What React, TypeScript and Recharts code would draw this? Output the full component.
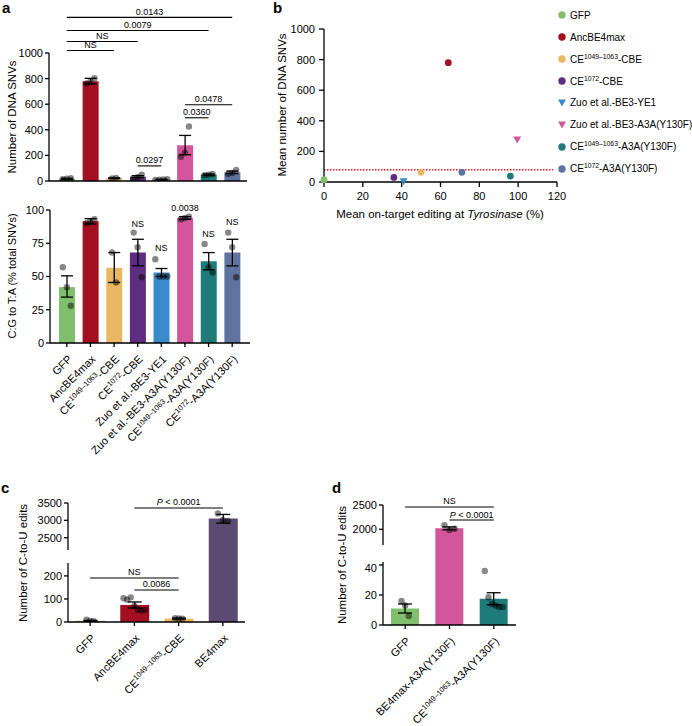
import React from 'react';
import {
  ComposedChart, ScatterChart, Bar, Line, Scatter, XAxis, YAxis, ErrorBar, Cell, ReferenceLine, ReferenceDot, Legend,
} from 'recharts';

const FONT = '"Liberation Sans", Arial, Helvetica, sans-serif';

// ---------------- Panel a ----------------
const catsA = ['GFP', 'AncBE4max', 'CE^{1049–1063}-CBE', 'CE^{1072}-CBE', 'Zuo et al.-BE3-YE1', 'Zuo et al.-BE3-A3A(Y130F)', 'CE^{1049–1063}-A3A(Y130F)', 'CE^{1072}-A3A(Y130F)'];
const colorsA = ['#80bf6b', '#a30f20', '#e9b865', '#5f2d80', '#3a8bcb', '#d3559b', '#1e7b7a', '#5f72a0'];
const snvMean = [18, 780, 22, 34, 11, 279, 50, 68];
const snvErr = [[3, 3], [22, 22], [3, 3], [8, 8], [3, 3], [74, 77], [5, 5], [10, 10]];
const snvPts = [[15, 18, 21], [762, 775, 803], [20, 24], [22, 30, 50], [8, 10, 12, 14], [190, 222, 426], [45, 50, 55], [55, 62, 86]];
const snvTicks = [0, 200, 400, 600, 800, 1000];
const snvBrackets = [
  { from: 0, to: 7, y: 1278, text: '0.0143' },
  { from: 0, to: 6, y: 1176, text: '0.0079' },
  { from: 0, to: 3, y: 1090, text: 'NS' },
  { from: 0, to: 2, y: 1020, text: 'NS' },
  { from: 3, to: 4, y: 118, text: '0.0297' },
  { from: 5, to: 6, y: 494, text: '0.0360' },
  { from: 5, to: 7, y: 596, text: '0.0478' },
];

const cgMean = [42, 91.5, 56.5, 68, 53, 94, 61.5, 68];
const cgErr = [[7.5, 8.5], [2, 2], [11, 11.5], [10, 10], [3, 3], [1, 1], [6.5, 6.5], [10, 10]];
const cgPts = [[57, 42, 28], [90, 91.5, 93], [68, 45.5], [83, 72, 49.5], [63, 50, 50, 50], [93, 94, 95], [74.5, 57, 53], [83, 72, 49.5]];
const cgSig = ['', '', '', 'NS', 'NS', '0.0038', 'NS', 'NS'];
const cgSigY = [null, null, null, 90, 72, 102, 82, 91];
const cgTicks = [0, 25, 50, 75, 100];

// ---------------- Panel b ----------------
const bNames = ['GFP', 'AncBE4max', 'CE^{1049–1063}-CBE', 'CE^{1072}-CBE', 'Zuo et al.-BE3-YE1', 'Zuo et al.-BE3-A3A(Y130F)', 'CE^{1049–1063}-A3A(Y130F)', 'CE^{1072}-A3A(Y130F)'];
const bX = [0, 64, 50, 36, 41, 99.5, 96, 71];
const bY = [15, 780, 63, 30, 2, 275, 39, 63];
const bShapes = ['circle', 'circle', 'circle', 'circle', 'tri', 'tri', 'circle', 'circle'];
const bXTicks = [0, 20, 40, 60, 80, 100, 120];
const bYTicks = [0, 80, 200, 400, 600, 800, 1000];
const bThreshold = 80;

// ---------------- Panel c ----------------
const catsC = ['GFP', 'AncBE4max', 'CE^{1049–1063}-CBE', 'BE4max'];
const colorsC = ['#80bf6b', '#a30f20', '#e9b865', '#5b4a72'];
const cMean = [5, 74, 15, 3050];
const cErr = [[2, 2], [13, 13], [2, 2], [130, 120]];
const cPts = [[10, 5, 4], [103, 97, 107, 70, 52, 50, 52], [16, 15, 14], [3200, 3010, 2980]];
const cBroken = [false, false, false, true];
const cUpperTicks = [2500, 3000, 3500];
const cLowerTicks = [0, 100, 200];
const cUpperBrackets = [{ from: 1, to: 3, y: 3356, text: 'P < 0.0001' }];
const cLowerBrackets = [
  { from: 0, to: 2, y: 191, text: 'NS' },
  { from: 1, to: 2, y: 139, text: '0.0086' },
];

// ---------------- Panel d ----------------
const catsD = ['GFP', 'BE4max-A3A(Y130F)', 'CE^{1049–1063}-A3A(Y130F)'];
const colorsD = ['#80bf6b', '#d3559b', '#1e7b7a'];
const dMean = [11, 2020, 17.5];
const dErr = [[3, 3], [30, 30], [4, 4]];
const dPts = [[16, 13, 6], [2085, 1985, 2010], [36, 18.5, 14, 13, 12, 12]];
const dBroken = [false, true, false];
const dUpperTicks = [2000, 2500];
const dLowerTicks = [0, 20, 40];
const dUpperBrackets = [
  { from: 0, to: 2, y: 2459, text: 'NS' },
  { from: 1, to: 2, y: 2191, text: 'P < 0.0001' },
];

// ---------------- helpers ----------------
const AX = { stroke: '#000', strokeWidth: 1.3 };
const TICKFONT = { fontSize: 11, fill: '#000' };

function svgLabel(s: string, fs: number) {
  const m = s.match(/^(.*)\^\{(.*)\}(.*)$/);
  if (!m) return s;
  return [
    <tspan key="a">{m[1]}</tspan>,
    <tspan key="b" fontSize={fs * 0.68} dy={-fs * 0.4}>{m[2]}</tspan>,
    <tspan key="c" fontSize={fs} dy={fs * 0.4}>{m[3]}</tspan>,
  ];
}

function htmlLabel(s: string, fs: number) {
  const m = s.match(/^(.*)\^\{(.*)\}(.*)$/);
  if (!m) return s;
  return (
    <>
      {m[1]}
      <span style={{ fontSize: fs * 0.68, position: 'relative', top: -fs * 0.4 }}>{m[2]}</span>
      {m[3]}
    </>
  );
}

const makeRotTick = (fs: number) => (props: any) => {
  const { x, y, payload } = props;
  return (
    <g transform={`translate(${x + 3},${y + 8})`}>
      <text transform="rotate(-45)" textAnchor="end" fontSize={fs} fill="#000" dy={4}>
        {svgLabel(String(payload.value), fs)}
      </text>
    </g>
  );
};

const bracketLabel = (text: string) => (props: any) => {
  const vb = props.viewBox || props;
  let cx: number;
  let y: number;
  if (vb.x1 != null) {
    cx = (vb.x1 + vb.x2) / 2;
    y = Math.min(vb.y1, vb.y2);
  } else {
    cx = vb.x + (vb.width || 0) / 2;
    y = vb.y;
  }
  const italic = text.startsWith('P ');
  return (
    <text x={cx} y={y - 2.5} textAnchor="middle" fontSize={9} fill="#000">
      {italic ? [<tspan key="p" fontStyle="italic">P</tspan>, <tspan key="r">{text.slice(1)}</tspan>] : text}
    </text>
  );
};

function bracketLines(list: any[], cats: string[], prefix: string) {
  return list.map((b, k) => (
    <ReferenceLine
      key={`${prefix}${k}`}
      segment={[{ x: cats[b.from], y: b.y }, { x: cats[b.to], y: b.y }]}
      stroke="#000"
      strokeWidth={1.1}
      ifOverflow="visible"
      label={bracketLabel(b.text)}
    />
  ));
}

const makeDot = (i: number, spacing: number) => (p: any) => {
  const { cx, cy, payload, index } = p;
  const pts = payload && payload.pts;
  if (cy == null || isNaN(cy) || !pts || pts[i] == null) return <g key={`d${i}-${index}`} />;
  const n = pts.length;
  const off = (i - (n - 1) / 2) * spacing;
  return <circle key={`d${i}-${index}`} cx={cx + off} cy={cy} r={3.2} fill="#000" fillOpacity={0.47} />;
};

function pointLines(maxN: number, spacing: number, prefix: string) {
  const out: any[] = [];
  for (let i = 0; i < maxN; i++) {
    out.push(
      <Line
        key={`${prefix}${i}`}
        dataKey={(d: any) => (d.pts && d.pts[i] != null ? d.pts[i] : null)}
        stroke="none"
        isAnimationActive={false}
        dot={makeDot(i, spacing)}
        activeDot={false}
        legendType="none"
      />,
    );
  }
  return out;
}

const sigShape = (text: string) => (p: any) => (
  <text x={p.cx} y={p.cy + 3.5} textAnchor="middle" fontSize={9} fill="#000">{text}</text>
);

const BYTick = (p: any) => {
  const v = p.payload.value;
  return (
    <text x={p.x} y={p.y} dy={4} textAnchor="end" fontSize={11} fill={v === bThreshold ? '#e8141b' : '#000'}>
      {v}
    </text>
  );
};

const downTri = (p: any) => (
  <polygon points={`${p.cx - 4},${p.cy - 3.5} ${p.cx + 4},${p.cy - 3.5} ${p.cx},${p.cy + 3.5}`} fill={p.fill} />
);
const circ = (p: any) => <circle cx={p.cx} cy={p.cy} r={3.4} fill={p.fill} />;

const BLegend = () => (
  <div style={{ fontFamily: FONT, fontSize: 10, color: '#000' }}>
    {bNames.map((n, i) => (
      <div key={i} style={{ height: 21.9, display: 'flex', alignItems: 'center', whiteSpace: 'nowrap' }}>
        <svg width={12} height={10} style={{ flex: 'none' }}>
          {bShapes[i] === 'tri'
            ? <polygon points="2,1.5 10,1.5 6,8.5" fill={colorsA[i]} />
            : <circle cx={6} cy={5} r={3.7} fill={colorsA[i]} />}
        </svg>
        <span style={{ marginLeft: 2 }}>{htmlLabel(n, 10)}</span>
      </div>
    ))}
  </div>
);

// ---------------- data rows ----------------
const snvRows = catsA.map((name, i) => ({ name, mean: snvMean[i], err: snvErr[i], pts: snvPts[i] }));
const cgRows = catsA.map((name, i) => ({ name, mean: cgMean[i], err: cgErr[i], pts: cgPts[i] }));
const cUpperRows = catsC.map((name, i) => ({ name, mean: cBroken[i] ? cMean[i] : null, err: cBroken[i] ? cErr[i] : undefined, pts: cBroken[i] ? cPts[i] : undefined }));
const cLowerRows = catsC.map((name, i) => ({ name, mean: cMean[i], err: cBroken[i] ? undefined : cErr[i], pts: cBroken[i] ? undefined : cPts[i] }));
const dUpperRows = catsD.map((name, i) => ({ name, mean: dBroken[i] ? dMean[i] : null, err: dBroken[i] ? dErr[i] : undefined, pts: dBroken[i] ? dPts[i] : undefined }));
const dLowerRows = catsD.map((name, i) => ({ name, mean: dMean[i], err: dBroken[i] ? undefined : dErr[i], pts: dBroken[i] ? undefined : dPts[i] }));

const Abs = ({ left, top, children }: any) => (
  <div style={{ position: 'absolute', left, top }}>{children}</div>
);

export default function App() {
  return (
    <div style={{ position: 'absolute', left: 0, top: 0, width: 692, height: 726, background: '#fff', fontFamily: FONT, overflow: 'hidden' }}>
      {/* a top */}
      <Abs left={0} top={0}>
        <ComposedChart width={262} height={190} data={snvRows} margin={{ top: 53, right: 15, bottom: 0, left: 0 }}>
          <XAxis dataKey="name" height={9} tick={false} tickSize={4} axisLine={AX} tickLine={AX} padding={{ left: 6, right: 3 }} />
          <YAxis width={49} domain={[0, 1000]} ticks={snvTicks} allowDataOverflow tick={TICKFONT} tickSize={4} tickMargin={2} axisLine={AX} tickLine={AX} />
          <Bar dataKey="mean" barSize={16} isAnimationActive={false}>
            {snvRows.map((r, i) => <Cell key={i} fill={colorsA[i]} />)}
            <ErrorBar dataKey="err" width={6} stroke="#000" strokeWidth={1.3} />
          </Bar>
          {pointLines(4, 4, 'sp')}
          {bracketLines(snvBrackets, catsA, 'sb')}
        </ComposedChart>
      </Abs>

      {/* a bottom */}
      <Abs left={0} top={190}>
        <ComposedChart width={262} height={280} data={cgRows} margin={{ top: 20, right: 12, bottom: 0, left: 0 }}>
          <XAxis dataKey="name" height={127} interval={0} tick={makeRotTick(11)} tickSize={4} tickMargin={2} axisLine={AX} tickLine={AX} padding={{ left: 5, right: 6 }} />
          <YAxis width={50} domain={[0, 100]} ticks={cgTicks} allowDataOverflow tick={TICKFONT} tickSize={4} tickMargin={2} axisLine={AX} tickLine={AX} />
          <Bar dataKey="mean" barSize={16} isAnimationActive={false}>
            {cgRows.map((r, i) => <Cell key={i} fill={colorsA[i]} />)}
            <ErrorBar dataKey="err" width={6} stroke="#000" strokeWidth={1.3} />
          </Bar>
          {pointLines(4, 4, 'cp')}
          {catsA.map((name, i) => (cgSigY[i] != null ? (
            <ReferenceDot key={`sig${i}`} x={name} y={cgSigY[i] as number} r={0} ifOverflow="visible" shape={sigShape(cgSig[i])} />
          ) : null))}
        </ComposedChart>
      </Abs>

      {/* b */}
      <Abs left={280} top={0}>
        <ScatterChart width={412} height={230} margin={{ top: 29, right: 135, bottom: 0, left: 0 }}>
          <XAxis type="number" dataKey="x" domain={[0, 120]} ticks={bXTicks} height={48} tick={TICKFONT} tickSize={5} tickMargin={5} axisLine={AX} tickLine={AX} />
          <YAxis type="number" dataKey="y" width={44} domain={[0, 1000]} ticks={bYTicks} tick={BYTick} tickSize={5} tickMargin={4} axisLine={AX} tickLine={AX} />
          <ReferenceLine segment={[{ x: 0, y: bThreshold }, { x: 118, y: bThreshold }]} stroke="#e8141b" strokeWidth={1.3} strokeDasharray="1.5 1.5" ifOverflow="visible" />
          {bNames.map((n, i) => (
            <Scatter
              key={i}
              name={n}
              data={[{ x: bX[i], y: bY[i] }]}
              fill={colorsA[i]}
              shape={bShapes[i] === 'tri' ? downTri : circ}
              isAnimationActive={false}
            />
          ))}
          <Legend layout="vertical" align="center" verticalAlign="middle" wrapperStyle={{ left: 276, top: 4.4, width: 140 }} content={() => <BLegend />} />
        </ScatterChart>
      </Abs>

      {/* c upper */}
      <Abs left={0} top={490}>
        <ComposedChart width={260} height={73} data={cUpperRows} margin={{ top: 13, right: 15, bottom: 0, left: 0 }}>
          <XAxis dataKey="name" hide />
          <YAxis width={68} domain={[1771, 3500]} ticks={cUpperTicks} allowDataOverflow tick={TICKFONT} tickSize={4} tickMargin={2} axisLine={{ ...AX, strokeDasharray: '47 40' }} tickLine={AX} />
          <Bar dataKey="mean" barSize={29} isAnimationActive={false}>
            {cUpperRows.map((r, i) => <Cell key={i} fill={colorsC[i]} />)}
            <ErrorBar dataKey="err" width={7} stroke="#000" strokeWidth={1.3} />
          </Bar>
          {pointLines(3, 5, 'cu')}
          {bracketLines(cUpperBrackets, catsC, 'cub')}
        </ComposedChart>
      </Abs>

      {/* c lower */}
      <Abs left={0} top={563}>
        <ComposedChart width={260} height={150} data={cLowerRows} margin={{ top: 0, right: 15, bottom: 0, left: 0 }}>
          <XAxis dataKey="name" height={91} interval={0} tick={makeRotTick(11)} tickSize={4} tickMargin={2} axisLine={AX} tickLine={AX} />
          <YAxis width={68} domain={[0, 256]} ticks={cLowerTicks} allowDataOverflow tick={TICKFONT} tickSize={4} tickMargin={2} axisLine={AX} tickLine={AX} />
          <Bar dataKey="mean" barSize={29} isAnimationActive={false}>
            {cLowerRows.map((r, i) => <Cell key={i} fill={colorsC[i]} />)}
            <ErrorBar dataKey="err" width={7} stroke="#000" strokeWidth={1.3} />
          </Bar>
          {pointLines(7, 3.6, 'cl')}
          {bracketLines(cLowerBrackets, catsC, 'clb')}
        </ComposedChart>
      </Abs>

      {/* d upper */}
      <Abs left={340} top={490}>
        <ComposedChart width={190} height={72} data={dUpperRows} margin={{ top: 15, right: 14, bottom: 0, left: 0 }}>
          <XAxis dataKey="name" hide />
          <YAxis width={43} domain={[1327, 2500]} ticks={dUpperTicks} allowDataOverflow tick={TICKFONT} tickSize={4} tickMargin={2} axisLine={{ ...AX, strokeDasharray: '40 40' }} tickLine={AX} />
          <Bar dataKey="mean" barSize={28} isAnimationActive={false}>
            {dUpperRows.map((r, i) => <Cell key={i} fill={colorsD[i]} />)}
            <ErrorBar dataKey="err" width={7} stroke="#000" strokeWidth={1.3} />
          </Bar>
          {pointLines(3, 5, 'du')}
          {bracketLines(dUpperBrackets, catsD, 'dub')}
        </ComposedChart>
      </Abs>

      {/* d lower */}
      <Abs left={340} top={562}>
        <ComposedChart width={190} height={164} data={dLowerRows} margin={{ top: 0, right: 14, bottom: 0, left: 0 }}>
          <XAxis dataKey="name" height={101} interval={0} tick={makeRotTick(11)} tickSize={4} tickMargin={2} axisLine={AX} tickLine={AX} />
          <YAxis width={43} domain={[0, 42]} ticks={dLowerTicks} allowDataOverflow tick={TICKFONT} tickSize={4} tickMargin={2} axisLine={AX} tickLine={AX} />
          <Bar dataKey="mean" barSize={28} isAnimationActive={false}>
            {dLowerRows.map((r, i) => <Cell key={i} fill={colorsD[i]} />)}
            <ErrorBar dataKey="err" width={7} stroke="#000" strokeWidth={1.3} />
          </Bar>
          {pointLines(6, 3.6, 'dl')}
        </ComposedChart>
      </Abs>

      {/* titles and panel letters */}
      <svg width={692} height={726} style={{ position: 'absolute', left: 0, top: 0, pointerEvents: 'none' }}>
        <g fontFamily={FONT} fill="#000">
          <text x={2} y={13} fontSize={15} fontWeight="bold">a</text>
          <text x={273} y={13} fontSize={15} fontWeight="bold">b</text>
          <text x={1} y={493} fontSize={15} fontWeight="bold">c</text>
          <text x={332} y={493} fontSize={15} fontWeight="bold">d</text>
          <text transform="translate(12,117) rotate(-90)" textAnchor="middle" dy="0.35em" fontSize={11.5}>Number of DNA SNVs</text>
          <text transform="translate(12,276) rotate(-90)" textAnchor="middle" dy="0.35em" fontSize={11}>C:G to T:A (% total SNVs)</text>
          <text transform="translate(282,105) rotate(-90)" textAnchor="middle" dy="0.35em" fontSize={11.5}>Mean number of DNA SNVs</text>
          <text x={440} y={218} textAnchor="middle" fontSize={11.5}>
            Mean on-target editing at <tspan fontStyle="italic">Tyrosinase</tspan> (%)
          </text>
          <text transform="translate(23,563) rotate(-90)" textAnchor="middle" dy="0.35em" fontSize={11.5}>Number of C-to-U edits</text>
          <text transform="translate(342,565) rotate(-90)" textAnchor="middle" dy="0.35em" fontSize={11.5}>Number of C-to-U edits</text>
        </g>
      </svg>
    </div>
  );
}
